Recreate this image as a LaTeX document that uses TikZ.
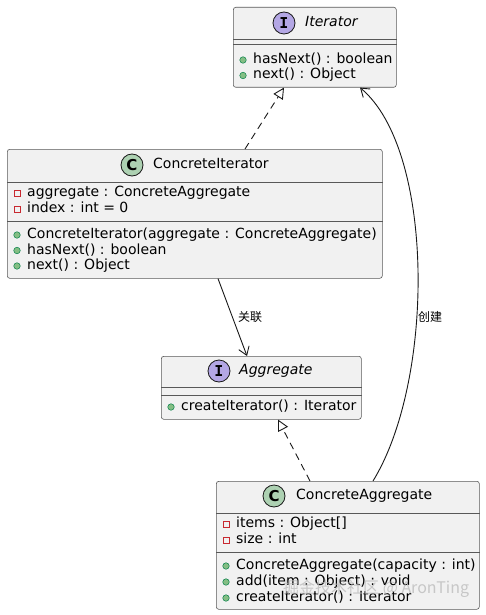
\documentclass[tikz,border=0pt]{standalone}
\usepackage{fontspec}
\setmainfont{DejaVu Sans}
\newfontfamily\cjk{Noto Sans CJK SC}
\newfontfamily\monob{DejaVu Sans Mono}
\usetikzlibrary{arrows.meta}
\definecolor{boxfill}{HTML}{F1F1F1}
\definecolor{boxline}{HTML}{585858}
\definecolor{connline}{HTML}{181818}
\definecolor{ifill}{HTML}{B4A7E5}
\definecolor{cfill}{HTML}{ADD1B2}
\definecolor{privred}{HTML}{C82930}
\definecolor{pubfill}{HTML}{84BE84}
\definecolor{publine}{HTML}{038048}
\newcommand\mrow[5]{%
  \node[#4] (#1i) at (#2,#3) {};
  \node[membertext] (#1) at ({#2+10},#3) {#5};}
\begin{document}
\begin{tikzpicture}[x=1pt,y=-1pt,
  classbox/.style={draw=boxline, fill=boxfill, line width=0.6pt, rounded corners=2.5pt, inner sep=0pt, anchor=north west},
  sepline/.style={draw=boxline, line width=0.6pt},
  membertext/.style={anchor=west, inner sep=0pt, text height=10pt, text depth=3pt, font=\fontsize{14}{16}\selectfont, text=black},
  titletext/.style={anchor=west, inner sep=0pt, text height=10pt, text depth=3pt, font=\fontsize{14}{16}\selectfont, text=black},
  privicon/.style={draw=privred, rectangle, minimum size=6pt, inner sep=0pt, line width=0.8pt},
  pubicon/.style={draw=publine, fill=pubfill, circle, minimum size=6.5pt, inner sep=0pt, line width=0.5pt},
  iicon/.style={circle, draw=connline, fill=ifill, line width=0.8pt, minimum size=22pt, inner sep=0pt, font=\monob\bfseries\fontsize{15}{15}\selectfont},
  cicon/.style={circle, draw=connline, fill=cfill, line width=0.8pt, minimum size=22pt, inner sep=0pt, font=\bfseries\fontsize{15}{15}\selectfont},
  edgelabel/.style={anchor=west, inner sep=0pt, font=\cjk\fontsize{12}{12}\selectfont},
  conn/.style={draw=connline, line width=0.9pt},
  realize/.style={conn, dash pattern=on 7pt off 5pt, -{Triangle[open, length=11pt, width=11pt, line width=0.9pt]}},
  assoc/.style={conn, -{Straight Barb[length=8pt, width=11pt, line width=0.9pt]}}
]
\useasboundingbox (0,0) rectangle (485,615);

% ---------- Iterator ----------
\node[classbox, minimum width=163pt, minimum height=80pt] (it) at (233,7) {};
\draw[sepline] ([yshift=-32pt]it.north west) -- ([yshift=-32pt]it.north east);
\draw[sepline] ([yshift=-37pt]it.north west) -- ([yshift=-37pt]it.north east);
\node[iicon] (itc) at (284,23) {I};
\node[titletext, font=\itshape\fontsize{14}{16}\selectfont] (itt) at (305,23) {Iterator};
\mrow{itm1}{243}{60}{pubicon}{hasNext() : boolean}
\mrow{itm2}{243}{75.5}{pubicon}{next() : Object}

% ---------- ConcreteIterator ----------
\node[classbox, minimum width=375pt, minimum height=129pt] (ci) at (7,149) {};
\draw[sepline] ([yshift=-33pt]ci.north west) -- ([yshift=-33pt]ci.north east);
\draw[sepline] ([yshift=-72pt]ci.north west) -- ([yshift=-72pt]ci.north east);
\node[cicon] (cic) at (132,165) {C};
\node[titletext] (cit) at (153,165) {ConcreteIterator};
\mrow{cia1}{17}{193}{privicon}{aggregate : ConcreteAggregate}
\mrow{cia2}{17}{209}{privicon}{index : int = 0}
\mrow{cim1}{17}{235}{pubicon}{ConcreteIterator(aggregate : ConcreteAggregate)}
\mrow{cim2}{17}{250.5}{pubicon}{hasNext() : boolean}
\mrow{cim3}{17}{266}{pubicon}{next() : Object}

% ---------- Aggregate ----------
\node[classbox, minimum width=200pt, minimum height=63pt] (ag) at (161,356) {};
\draw[sepline] ([yshift=-31pt]ag.north west) -- ([yshift=-31pt]ag.north east);
\draw[sepline] ([yshift=-39pt]ag.north west) -- ([yshift=-39pt]ag.north east);
\node[iicon] (agc) at (219,371) {I};
\node[titletext, font=\itshape\fontsize{14}{16}\selectfont] (agt) at (239,371) {Aggregate};
\mrow{agm1}{171}{407}{pubicon}{createIterator() : Iterator}

% ---------- ConcreteAggregate ----------
\node[classbox, minimum width=263pt, minimum height=128pt] (ca) at (216,481) {};
\draw[sepline] ([yshift=-32pt]ca.north west) -- ([yshift=-32pt]ca.north east);
\draw[sepline] ([yshift=-71pt]ca.north west) -- ([yshift=-71pt]ca.north east);
\node[cicon] (cac) at (274,496) {C};
\node[titletext] (cat) at (296,496) {ConcreteAggregate};
\mrow{caa1}{226}{524}{privicon}{items : Object[]}
\mrow{caa2}{226}{540}{privicon}{size : int}
\mrow{cam1}{226}{566}{pubicon}{ConcreteAggregate(capacity : int)}
\mrow{cam2}{226}{582}{pubicon}{add(item : Object) : void}
\mrow{cam3}{226}{598}{pubicon}{createIterator() : Iterator}

% ---------- connectors ----------
\draw[realize] ([xshift=238pt]ci.north west) -- ([xshift=51pt]it.south west);
\draw[assoc] ([xshift=211pt]ci.south west) -- ([xshift=86pt]ag.north west);
\node[edgelabel] (l1) at (238,317) {关联};
\draw[realize] ([xshift=94pt]ca.north west) -- ([xshift=117pt]ag.south west);
\draw[assoc] ([xshift=157pt]ca.north west) .. controls (435,380) and (435,150) .. ([xshift=127pt]it.south west);
\node[edgelabel] (l2) at (418,317) {创建};

% ---------- watermark ----------
\node[anchor=west, inner sep=0pt, text=gray!55, opacity=0.75, font=\cjk\fontsize{16}{16}\selectfont] (wm) at (283,589) {掘金技术社区 @ AronTing};
\end{tikzpicture}
\end{document}
